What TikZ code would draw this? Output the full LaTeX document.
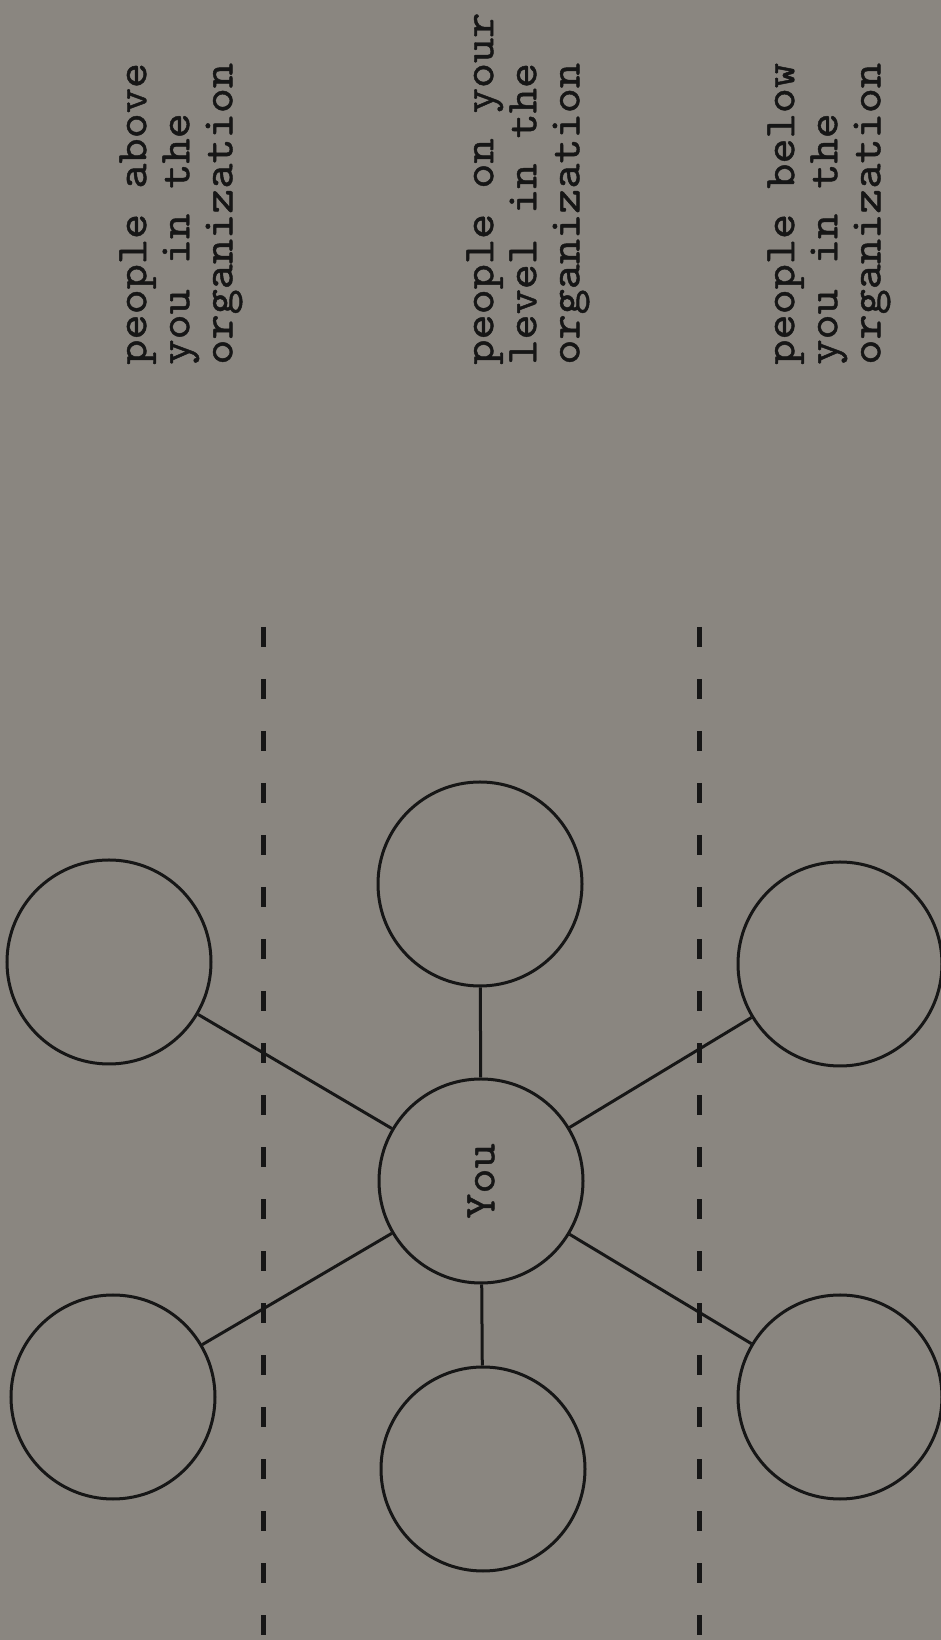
\documentclass[tikz,border=0pt]{standalone}
\usepackage{fontspec}
\newfontfamily\typewriter{lmmono10-regular}[Extension=.otf,FakeStretch=1.09,FakeBold=1]
\definecolor{paper}{RGB}{138,134,128}
\definecolor{ink}{RGB}{22,22,22}
\tikzset{
  person/.style={circle,draw=ink,line width=0.6mm,minimum size=40.8mm,inner sep=0pt},
  spoke/.style={draw=ink,line width=0.6mm},
  divider/.style={draw=ink,line width=1mm,dash pattern=on 4mm off 6.4mm},
  typed/.style={text=ink,font=\typewriter\fontsize{25}{24.5}\selectfont},
  notes/.style={typed,rotate=90,anchor=north west,align=left,inner sep=0pt}
}
\begin{document}
\begin{tikzpicture}[x=0.2mm,y=0.2mm]
	\useasboundingbox (0,0) rectangle (941,1640);
	\fill[paper] (0,0) rectangle (941,1640);
	% dashed lines between the levels
	\draw[divider] (263,1013) -- (263,0);
	\draw[divider] (699,1013) -- (699,0);
	% circles
	\node[person,typed,rotate=90] (you) at (481,459) {You};
	\node[person] (above1) at (109,678) {};
	\node[person] (above2) at (113,243) {};
	\node[person] (level1) at (480,756) {};
	\node[person] (level2) at (483,171) {};
	\node[person] (below1) at (840,676) {};
	\node[person] (below2) at (840,243) {};
	% spokes
	\foreach \n in {above1,above2,level1,level2,below1,below2}
		\draw[spoke] (you) -- (\n);
	% notes
	\node[notes] (abovenote) at (119,1275) {people above\\you in the\\organization};
	\node[notes] (levelnote) at (466,1275) {people on your\\level in the\\organization};
	\node[notes] (belownote) at (767,1275) {people below\\you in the\\organization};
\end{tikzpicture}
\end{document}
